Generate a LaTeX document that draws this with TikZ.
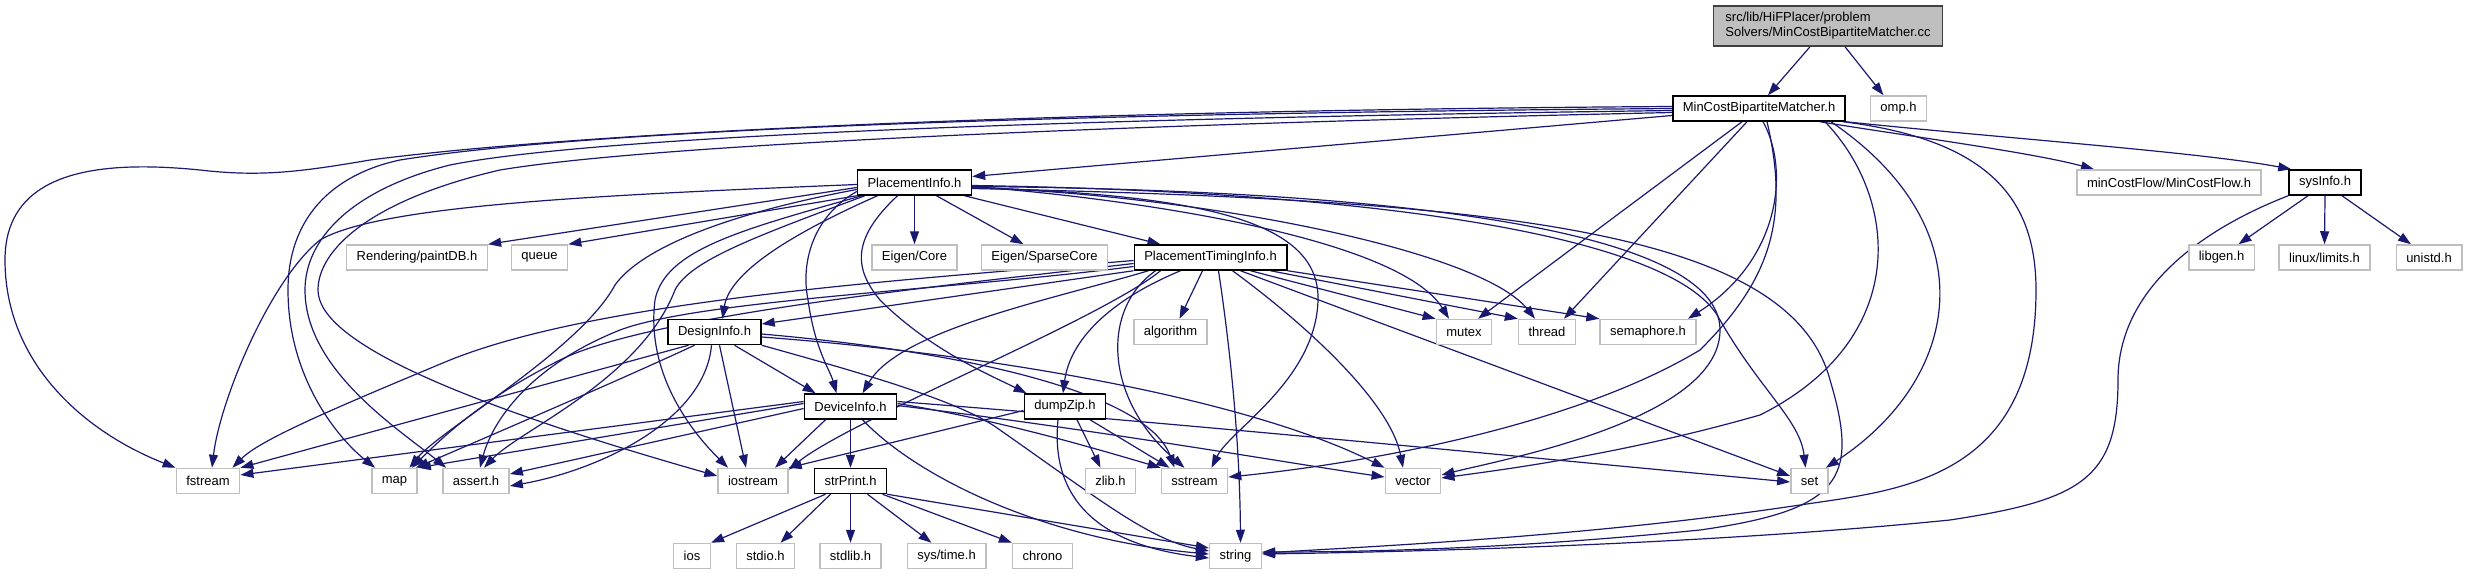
\documentclass[tikz,border=0pt]{standalone}
\usepackage{fontspec}
\newfontfamily\dotfont{Liberation Sans}
\usetikzlibrary{arrows.meta, backgrounds}
\definecolor{edgeBlue}{RGB}{25,25,112}
\definecolor{boxGray}{RGB}{191,191,191}
\definecolor{srcBorder}{RGB}{64,64,64}

\begin{document}
\begin{tikzpicture}[
    x=1pt, y=-1pt,
    >={Triangle[length=13pt, width=9pt]},
    font=\fontsize{13}{15}\selectfont\dotfont,
    file/.style={rectangle, minimum height=25pt, inner xsep=10pt, inner ysep=0pt, line width=1.5pt, fill=white},
    srcfile/.style={file, draw=srcBorder, fill=boxGray, align=left, inner xsep=12pt, minimum height=40pt},
    docfile/.style={file, draw=black},
    extfile/.style={file, draw=boxGray},
    dep/.style={->, draw=edgeBlue, line width=1.2pt}
]
    \useasboundingbox (0,0) rectangle (2468,575);

    \node[srcfile] (src) at (1828,26) {src/lib/HiFPlacer/problem\\Solvers/MinCostBipartiteMatcher.cc};
    \node[docfile] (mcbm) at (1759,108.5) {MinCostBipartiteMatcher.h};
    \node[extfile] (omp) at (1898.5,108.5) {omp.h};
    \node[docfile] (pinfo) at (914.5,182.5) {PlacementInfo.h};
    \node[extfile] (mcflow) at (2169,182.5) {minCostFlow/MinCostFlow.h};
    \node[docfile] (sysinfo) at (2325,182.5) {sysInfo.h};
    \node[extfile] (paintdb) at (417,257.5) {Rendering/paintDB.h};
    \node[extfile] (queue) at (539.5,257.5) {queue};
    \node[extfile] (eigcore) at (914.5,257.5) {Eigen/Core};
    \node[extfile] (eigsparse) at (1044.5,257.5) {Eigen/SparseCore};
    \node[docfile] (ptiming) at (1210.5,257.5) {PlacementTimingInfo.h};
    \node[extfile] (libgen) at (2221.5,257.5) {libgen.h};
    \node[extfile] (limits) at (2324.5,257.5) {linux/limits.h};
    \node[extfile] (unistd) at (2429,257.5) {unistd.h};
    \node[docfile] (design) at (714.5,332) {DesignInfo.h};
    \node[extfile] (algo) at (1170.5,332) {algorithm};
    \node[extfile] (mutex) at (1464,332) {mutex};
    \node[extfile] (thread) at (1547,332) {thread};
    \node[extfile] (sema) at (1648,332) {semaphore.h};
    \node[docfile] (device) at (850.5,406.5) {DeviceInfo.h};
    \node[docfile] (dumpzip) at (1065,406.5) {dumpZip.h};
    \node[extfile] (fstream) at (208,481) {fstream};
    \node[extfile] (map) at (394.5,481) {map};
    \node[extfile] (assert) at (476,481) {assert.h};
    \node[extfile] (iostream) at (753,481) {iostream};
    \node[docfile] (strprint) at (850.5,481) {strPrint.h};
    \node[extfile] (zlib) at (1110.5,481) {zlib.h};
    \node[extfile] (sstream) at (1194.5,481) {sstream};
    \node[extfile] (vector) at (1413,481) {vector};
    \node[extfile] (set) at (1809.5,481) {set};
    \node[extfile] (ios) at (692,556) {ios};
    \node[extfile] (stdio) at (765.5,556) {stdio.h};
    \node[extfile] (stdlib) at (850.5,556) {stdlib.h};
    \node[extfile] (systime) at (946.5,556) {sys/time.h};
    \node[extfile] (chrono) at (1042.5,556) {chrono};
    \node[extfile] (string) at (1235.5,556) {string};

    \begin{scope}[on background layer]
    % source file
    \draw[dep] ([xshift=-18pt]src.south) -- ([xshift=9pt]mcbm.north);
    \draw[dep] ([xshift=17pt]src.south) -- ([xshift=-15pt]omp.north);

    % MinCostBipartiteMatcher.h
    \draw[dep] ([yshift=-7pt]mcbm.west) -- ([yshift=6pt]pinfo.east);
    \draw[dep] ([xshift=61pt]mcbm.south) .. controls (1900,135) and (2030,152) .. ([xshift=-75pt]mcflow.north);
    \draw[dep] (mcbm.south east) .. controls (2000,138) and (2200,152) .. ([xshift=3pt]sysinfo.north west);
    \draw[dep] ([yshift=2pt]mcbm.west) .. controls (1100,110) and (600,130) .. (370,160) .. controls (300,172) and (260,177) .. (200,170) .. controls (100,160) and (5,170) .. (5,260) .. controls (5,360) and (80,430) .. (fstream.north west);
    \draw[dep] (mcbm.west) .. controls (1100,113) and (600,128) .. (400,160) .. controls (330,175) and (288,220) .. (288,290) .. controls (288,380) and (340,440) .. ([xshift=4pt]map.north west);
    \draw[dep] ([yshift=-2pt]mcbm.west) .. controls (1100,118) and (600,135) .. (450,165) .. controls (350,190) and (305,240) .. (305,290) .. controls (305,370) and (400,430) .. ([xshift=4pt]assert.north west);
    \draw[dep] ([yshift=-4pt]mcbm.west) .. controls (1100,125) and (650,145) .. (500,170) .. controls (370,200) and (318,250) .. (318,290) .. controls (318,340) and (450,400) .. ([yshift=5pt]iostream.west);
    \draw[dep] ([xshift=-17pt]mcbm.south) -- ([xshift=14pt]mutex.north);
    \draw[dep] ([xshift=-12pt]mcbm.south) -- ([xshift=17pt]thread.north);
    \draw[dep] ([xshift=4pt]mcbm.south) .. controls (1790,170) and (1780,260) .. ([xshift=40pt]sema.north);
    \draw[dep] ([xshift=8pt]mcbm.south) .. controls (1790,220) and (1770,280) .. (1700,350) .. controls (1550,440) and (1300,470) .. ([yshift=4pt]sstream.east);
    \draw[dep] ([xshift=66pt]mcbm.south) .. controls (1900,200) and (1910,340) .. (1760,415) .. controls (1620,455) and (1500,470) .. ([yshift=3pt]vector.east);
    \draw[dep] ([xshift=72pt]mcbm.south) .. controls (1990,230) and (1960,380) .. ([xshift=-3pt]set.north east);
    \draw[dep] ([xshift=-3pt]mcbm.south east) .. controls (1990,140) and (2036,200) .. (2036,290) .. controls (2036,480) and (1900,490) .. (1800,505) .. controls (1600,535) and (1400,545) .. ([yshift=3pt]string.east);

    % PlacementInfo.h
    \draw[dep] ([yshift=-5pt]pinfo.west) -- (paintdb.north east);
    \draw[dep] (pinfo.south west) -- (queue.north east);
    \draw[dep] (pinfo.south) -- (eigcore.north);
    \draw[dep] ([xshift=22pt]pinfo.south) -- ([xshift=-21pt]eigsparse.north);
    \draw[dep] ([xshift=50pt]pinfo.south) -- ([xshift=-50pt]ptiming.north);
    \draw[dep] ([xshift=-37pt]pinfo.south) .. controls (800,230) and (730,270) .. ([xshift=8pt]design.north);
    \draw[dep] ([xshift=-17pt]pinfo.south) .. controls (850,240) and (855,270) .. (880,300) .. controls (930,350) and (990,375) .. ([xshift=3pt]dumpzip.north west);
    \draw[dep] ([yshift=-9pt]pinfo.west) .. controls (815,215) and (800,260) .. (808,300) .. controls (815,350) and (830,370) .. ([xshift=-14pt]device.north);
    \draw[dep] ([yshift=-2pt]pinfo.west) .. controls (600,195) and (380,205) .. (320,240) .. controls (270,280) and (220,400) .. ([xshift=4pt]fstream.north);
    \draw[dep] ([yshift=-7pt]pinfo.west) .. controls (720,215) and (640,250) .. (615,285) .. controls (580,350) and (440,430) .. ([xshift=15pt]map.north);
    \draw[dep] ([xshift=8pt]pinfo.south west) .. controls (760,235) and (690,260) .. (675,290) .. controls (640,380) and (520,430) .. ([xshift=8pt]assert.north);
    \draw[dep] ([xshift=5pt]pinfo.south west) .. controls (740,230) and (665,250) .. (655,300) .. controls (645,380) and (700,440) .. ([xshift=-25pt]iostream.north);
    \draw[dep] ([yshift=-4pt]pinfo.east) .. controls (1150,200) and (1400,240) .. ([xshift=-15pt]mutex.north);
    \draw[dep] ([yshift=-5pt]pinfo.east) .. controls (1200,195) and (1480,250) .. ([xshift=-12pt]thread.north);
    \draw[dep] ([yshift=-5pt]pinfo.east) .. controls (1200,195) and (1320,220) .. (1318,300) .. controls (1316,380) and (1230,430) .. ([xshift=17pt]sstream.north);
    \draw[dep] ([yshift=-4pt]pinfo.east) .. controls (1400,190) and (1720,230) .. (1720,330) .. controls (1720,420) and (1500,460) .. ([yshift=6pt]vector.east);
    \draw[dep] ([yshift=-3pt]pinfo.east) .. controls (1400,192) and (1680,240) .. (1720,320) .. controls (1760,390) and (1800,420) .. ([xshift=-4pt]set.north);
    \draw[dep] ([yshift=-6pt]pinfo.east) .. controls (1500,200) and (1790,230) .. (1830,380) .. controls (1860,480) and (1840,510) .. (1700,530) .. controls (1500,550) and (1350,552) .. ([yshift=4pt]string.east);

    % PlacementTimingInfo.h
    \draw[dep] (ptiming.south west) -- ([yshift=8pt]design.east);
    \draw[dep] ([xshift=-62pt]ptiming.south) .. controls (1050,300) and (900,330) .. ([xshift=12pt]device.north);
    \draw[dep] ([xshift=-30pt]ptiming.south) .. controls (1110,300) and (1070,340) .. ([xshift=-2pt]dumpzip.north);
    \draw[dep] ([xshift=-8pt]ptiming.south) -- ([xshift=9pt]algo.north);
    \draw[dep] ([xshift=40pt]ptiming.south) -- (mutex.north west);
    \draw[dep] ([xshift=60pt]ptiming.south) -- (thread.north west);
    \draw[dep] (ptiming.south east) -- (sema.north west);
    \draw[dep] ([yshift=-3pt]ptiming.west) .. controls (900,280) and (600,300) .. (450,360) .. controls (330,410) and (260,440) .. ([xshift=-8pt]fstream.north east);
    \draw[dep] ([yshift=-6pt]ptiming.west) .. controls (950,285) and (650,315) .. (560,360) .. controls (480,400) and (440,440) .. ([xshift=-6pt]map.north east);
    \draw[dep] ([yshift=-9pt]ptiming.west) .. controls (950,290) and (700,300) .. (620,330) .. controls (520,370) and (490,430) .. ([xshift=4pt]assert.north);
    \draw[dep] ([xshift=-50pt]ptiming.south) .. controls (1100,320) and (850,420) .. ([yshift=-2pt]iostream.north east);
    \draw[dep] ([xshift=-55pt]ptiming.south) .. controls (1100,310) and (1105,400) .. ([xshift=-10pt]sstream.north);
    \draw[dep] ([xshift=22pt]ptiming.south) .. controls (1300,320) and (1390,400) .. ([xshift=-10pt]vector.north);
    \draw[dep] ([xshift=30pt]ptiming.south) -- ([yshift=5pt]set.west);
    \draw[dep] ([xshift=8pt]ptiming.south) .. controls (1235,380) and (1240,470) .. ([xshift=5pt]string.north);

    % DesignInfo.h
    \draw[dep] ([xshift=20pt]design.south) -- ([xshift=12pt]device.north west);
    \draw[dep] ([xshift=-26pt]design.south) -- (fstream.north east);
    \draw[dep] ([xshift=-20pt]design.south) .. controls (620,380) and (480,440) .. ([xshift=-2pt]map.north east);
    \draw[dep] ([xshift=-3pt]design.south) .. controls (705,420) and (600,470) .. ([yshift=-5pt]assert.east);
    \draw[dep] ([xshift=5pt]design.south) -- ([xshift=-7pt]iostream.north);
    \draw[dep] ([yshift=-2pt]design.east) .. controls (1000,355) and (1150,400) .. ([xshift=-20pt]sstream.north);
    \draw[dep] ([yshift=-5pt]design.east) .. controls (1000,355) and (1250,400) .. (vector.north west);
    \draw[dep] (design.south east) .. controls (850,370) and (960,400) .. (1000,430) .. controls (1100,500) and (1150,540) .. ([yshift=5pt]string.west);

    % DeviceInfo.h
    \draw[dep] (device.south) -- (strprint.north);
    \draw[dep] ([yshift=5pt]device.west) -- ([yshift=6pt]fstream.east);
    \draw[dep] ([yshift=3pt]device.west) -- (map.north east);
    \draw[dep] ([yshift=-2pt]device.west) -- ([yshift=7pt]assert.east);
    \draw[dep] ([xshift=-25pt]device.south) -- ([xshift=22pt]iostream.north);
    \draw[dep] ([yshift=3pt]device.east) .. controls (1000,420) and (1100,450) .. (sstream.north west);
    \draw[dep] ([yshift=1pt]device.east) .. controls (1100,430) and (1300,465) .. ([yshift=4pt]vector.west);
    \draw[dep] ([yshift=5pt]device.east) .. controls (1200,425) and (1500,455) .. ([yshift=-1pt]set.west);
    \draw[dep] ([xshift=12pt]device.south) .. controls (920,480) and (1050,540) .. ([yshift=2pt]string.west);

    % dumpZip.h
    \draw[dep] ([xshift=12pt]dumpzip.south) -- ([xshift=-10pt]zlib.north);
    \draw[dep] ([xshift=25pt]dumpzip.south) -- ([xshift=-25pt]sstream.north);
    \draw[dep] ([xshift=-7pt]dumpzip.south) .. controls (1050,500) and (1100,545) .. ([yshift=-2pt]string.west);
    \draw[dep] ([yshift=-4pt]dumpzip.west) -- (iostream.north east);

    % strPrint.h
    \draw[dep] ([xshift=-25pt]strprint.south) -- (ios.north east);
    \draw[dep] ([xshift=-20pt]strprint.south) -- ([xshift=15pt]stdio.north);
    \draw[dep] (strprint.south) -- (stdlib.north);
    \draw[dep] ([xshift=17pt]strprint.south) -- ([xshift=-15pt]systime.north);
    \draw[dep] ([xshift=32pt]strprint.south) -- (chrono.north west);
    \draw[dep] (strprint.south east) -- ([yshift=8pt]string.west);

    % sysInfo.h
    \draw[dep] ([xshift=-17pt]sysinfo.south) -- ([xshift=17pt]libgen.north);
    \draw[dep] (sysinfo.south) -- (limits.north);
    \draw[dep] ([xshift=17pt]sysinfo.south) -- ([xshift=-18pt]unistd.north);
    \draw[dep] (sysinfo.south west) .. controls (2200,230) and (2118,290) .. (2118,380) .. controls (2118,480) and (2080,500) .. (1950,520) .. controls (1700,545) and (1400,552) .. ([yshift=2pt]string.east);
    \end{scope}
\end{tikzpicture}
\end{document}
